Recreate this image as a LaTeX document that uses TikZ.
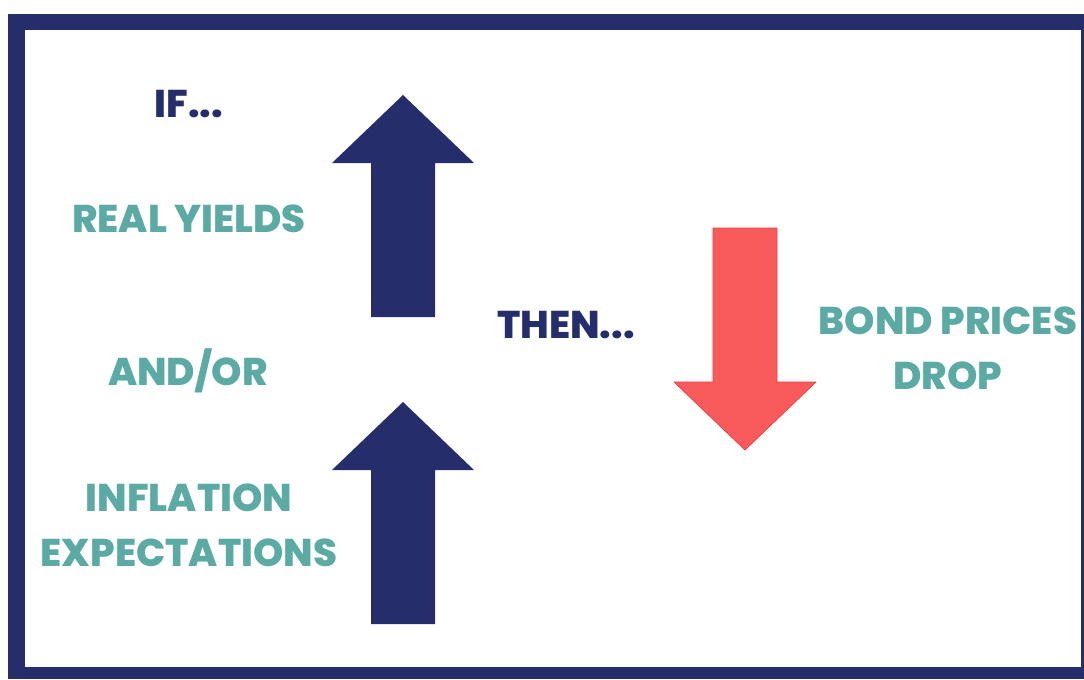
\documentclass[tikz,border=0pt]{standalone}
\usepackage{fontspec}
\setmainfont{Poppins}[BoldFont={Poppins ExtraBold}]
\usetikzlibrary{positioning}

\definecolor{framenavy}{HTML}{252E6A}
\definecolor{labelteal}{HTML}{5BABA4}
\definecolor{droppink}{HTML}{F95A5C}
\definecolor{dropred}{HTML}{EE3B3E}

\tikzset{every picture/.style={line cap=round, line join=round}}
\tikzset{cue/.style={font=\bfseries\fontsize{22}{31}\selectfont,
  text=framenavy, align=center, inner sep=0pt}}
\tikzset{factor/.style={font=\bfseries\fontsize{22}{31}\selectfont,
  text=labelteal, align=center, inner sep=0pt}}
% block arrow, tip at the origin, pointing up
\tikzset{fatarrow/.pic={
  \path[pic actions] (0,0) -- (71,68) -- (32,68) -- (32,222)
    -- (-32,222) -- (-32,68) -- (-71,68) -- cycle;}}

\begin{document}
\begin{tikzpicture}[x=0.02cm, y=-0.02cm]
  \useasboundingbox (0,0) rectangle (1084,679);

  % frame
  \fill[framenavy] (8,14) rectangle (1084,679);
  \fill[white] (25,30) rectangle (1081,667);

  % arrows
  \pic[fill=framenavy] (up1) at (403,95) {fatarrow};
  \pic[fill=framenavy] (up2) at (403,402) {fatarrow};
  \pic[fill=droppink, draw=dropred, thin, rotate=180] (down) at (745,450) {fatarrow};

  % left column (base = last line)
  \node[cue, anchor=base] (iftxt) at (189,117) {IF...};
  \node[factor, anchor=base] (yields) at (189,232) {REAL YIELDS};
  \node[factor, anchor=base] (andor) at (188,385) {AND/OR};
  \node[factor, anchor=base] (inflation) at (189,566) {INFLATION\\EXPECTATIONS};

  % middle and right
  \node[cue, anchor=base] (thentxt) at (566,338) {THEN...};
  \node[factor, anchor=base] (bond) at (948,389) {BOND PRICES\\DROP};
\end{tikzpicture}
\end{document}
